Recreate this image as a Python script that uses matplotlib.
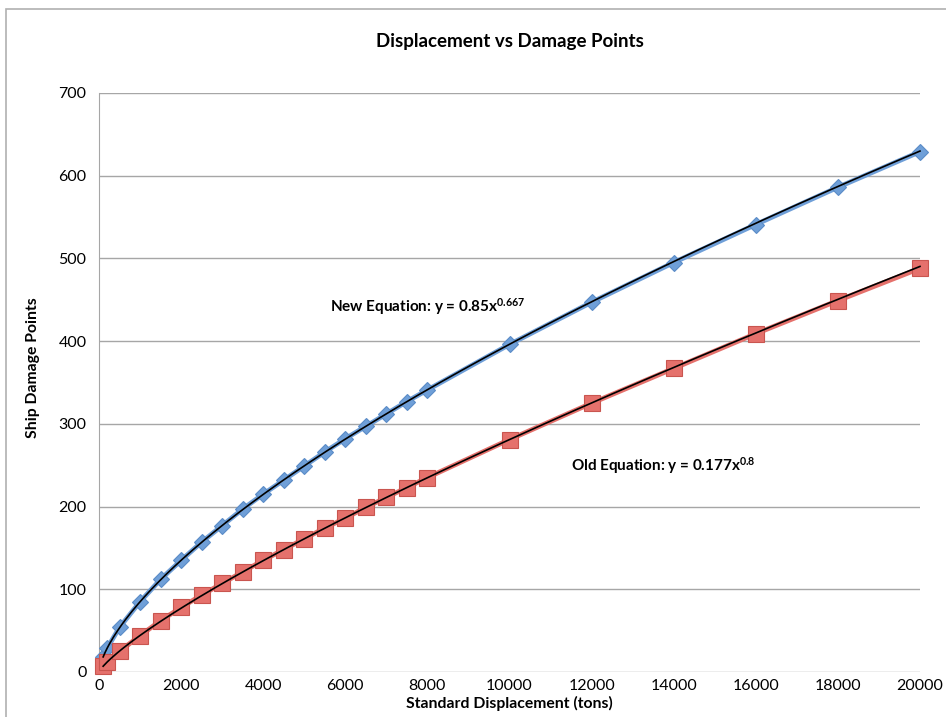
import numpy as np
import matplotlib.pyplot as plt
from matplotlib.patches import Rectangle


# displacement (tons) and damage points
displacement = [100, 200, 500, 1000, 1500, 2000, 2500, 3000, 3500, 4000, 4500,
                5000, 5500, 6000, 6500, 7000, 7500, 8000,
                10000, 12000, 14000, 16000, 18000, 20000]
new_damage = [18, 29, 54, 85, 112, 135, 157, 177, 197, 215, 232,
              249, 266, 282, 297, 312, 327, 341,
              396, 447, 495, 541, 586, 629]
old_damage = [7, 12, 25, 44, 62, 78, 93, 107, 121, 135, 148,
              161, 174, 186, 199, 211, 223, 235,
              281, 325, 367, 409, 449, 488]

y_ticks = [0, 100, 200, 300, 400, 500, 600, 700]
x_ticks = [0, 2000, 4000, 6000, 8000, 10000, 12000, 14000, 16000, 18000, 20000]

BLUE = '#6f9fd8'
BLUE_EDGE = '#5b8cc7'
RED = '#e5716c'
RED_EDGE = '#c9554f'
GRID = '#a6a6a6'


def power_fit(x, y):
    # least squares on log-log, same as a spreadsheet power trendline
    b, log_a = np.polyfit(np.log(x), np.log(y), 1)
    xs = np.linspace(min(x), max(x), 400)
    return xs, np.exp(log_a) * xs ** b


def plot():
    plt.rcParams['font.family'] = ['Lato', 'DejaVu Sans']
    plt.rcParams['mathtext.fontset'] = 'custom'
    plt.rcParams['mathtext.rm'] = 'Lato:bold'
    plt.rcParams['mathtext.it'] = 'Lato:bold'
    plt.rcParams['mathtext.bf'] = 'Lato:bold'

    fig = plt.figure(figsize=(9.46, 7.17), dpi=100)
    ax = fig.add_axes([0.1047, 0.0628, 0.8678, 0.8075])

    # outer chart frame (only top and left edges show)
    fig.patches.append(Rectangle((0.0063, -0.1), 1.2, 1.0874, transform=fig.transFigure,
                                 fill=False, edgecolor='#b0b0b0', linewidth=1.2))

    ax.plot(displacement, new_damage, '-', color=BLUE, lw=3.5, marker='D', ms=8.5,
            mfc=BLUE, mec=BLUE_EDGE, mew=0.8, clip_on=False, zorder=3)
    ax.plot(displacement, old_damage, '-', color=RED, lw=3.5, marker='s', ms=11,
            mfc=RED, mec=RED_EDGE, mew=0.8, clip_on=False, zorder=3)

    xs, ys = power_fit(displacement, new_damage)
    ax.plot(xs, ys, color='black', lw=1.2, zorder=4, clip_on=False)
    xs, ys = power_fit(displacement, old_damage)
    ax.plot(xs, ys, color='black', lw=1.2, zorder=4, clip_on=False)

    ax.text(5620, 442, r'New Equation: y = 0.85x$^{0.667}$', fontsize=11,
            fontweight='bold', va='center', ha='left')
    ax.text(11500, 249, r'Old Equation: y = 0.177x$^{0.8}$', fontsize=11,
            fontweight='bold', va='center', ha='left')

    ax.set_xlim(0, 20000)
    ax.set_ylim(0, 700)
    ax.set_xticks(x_ticks)
    ax.set_yticks(y_ticks)
    ax.tick_params(length=0, labelsize=11.5, pad=9)
    ax.tick_params(axis='x', pad=5)

    ax.grid(axis='y', color=GRID, lw=1)
    ax.set_axisbelow(True)
    for side in ['top', 'right', 'bottom']:
        ax.spines[side].set_visible(False)
    ax.spines['left'].set_color(GRID)

    ax.set_title('Displacement vs Damage Points', fontsize=13.5, fontweight='bold', pad=33)
    ax.set_xlabel('Standard Displacement (tons)', fontsize=11.3, fontweight='bold')
    ax.xaxis.set_label_coords(0.5, -0.042)
    ax.set_ylabel('Ship Damage Points', fontsize=11.3, fontweight='bold')
    ax.yaxis.set_label_coords(-0.072, 0.525)

    fig.savefig('out.png', dpi=100)


if __name__ == '__main__':
    plot()
